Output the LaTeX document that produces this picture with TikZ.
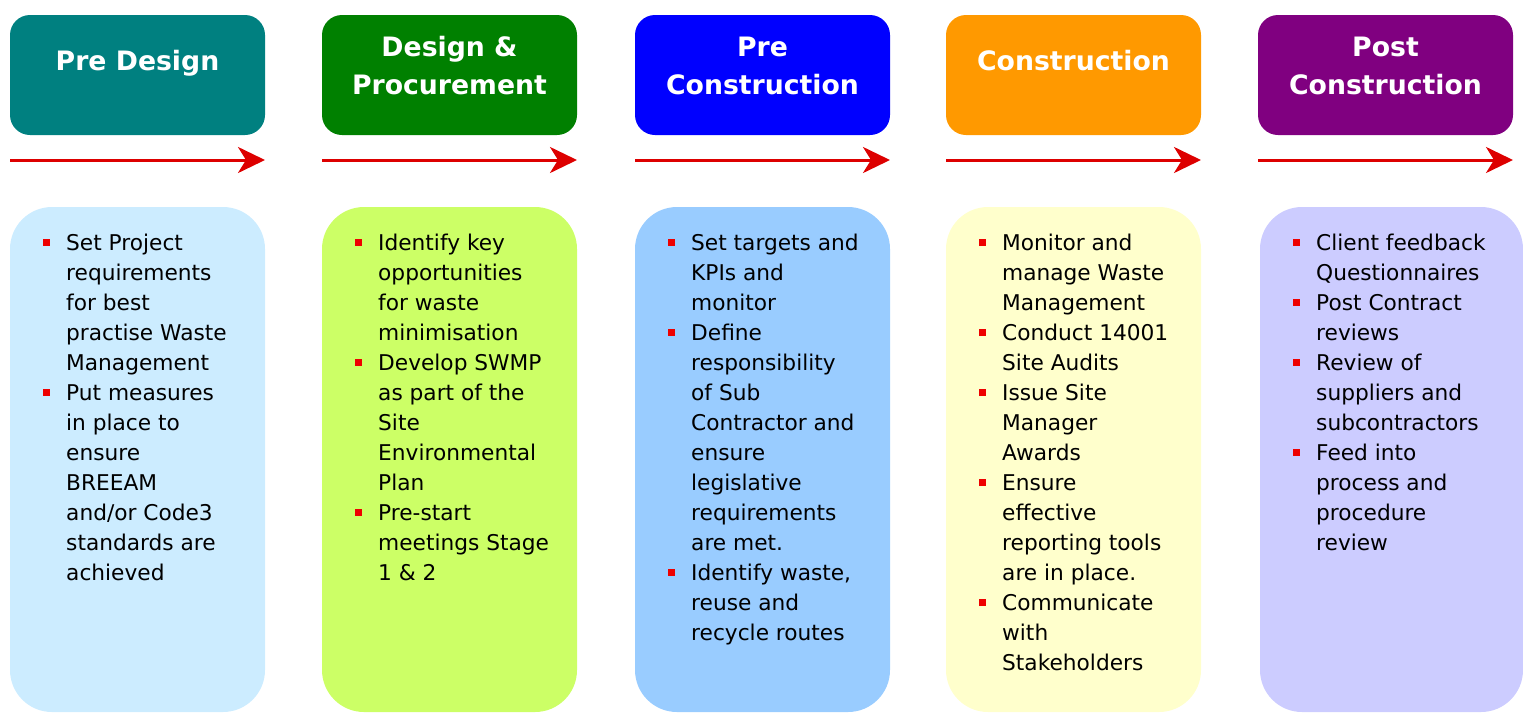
\documentclass[tikz,border=0pt]{standalone}
\usepackage{fontspec}
\setmainfont{DejaVu Sans}
\usetikzlibrary{arrows.meta}
\definecolor{hA}{HTML}{008080}
\definecolor{hB}{HTML}{008000}
\definecolor{hC}{HTML}{0000FF}
\definecolor{hD}{HTML}{FF9900}
\definecolor{hE}{HTML}{800080}
\definecolor{bA}{HTML}{CCECFF}
\definecolor{bB}{HTML}{CCFF66}
\definecolor{bC}{HTML}{99CCFF}
\definecolor{bD}{HTML}{FFFFCC}
\definecolor{bE}{HTML}{CCCCFF}
\definecolor{bulred}{HTML}{EE0000}
\definecolor{arrred}{HTML}{DD0000}
\newcommand{\bul}{\textcolor{bulred}{\rule[4.5pt]{7pt}{7pt}}}
\tikzset{
  headbox/.style={fill=#1, draw=none, rounded corners=20pt},
  bodybox/.style={fill=#1, draw=none, rounded corners=42pt},
  headtext/.style={text=white, font=\fontsize{26.7}{38}\selectfont\bfseries, align=center, inner sep=0pt, anchor=base},
  bodytext/.style={font=\fontsize{21.7}{30}\selectfont, inner sep=0pt, anchor=base west, text=black},
  phasearrow/.style={draw=arrred, line width=3pt, -{Stealth[length=27pt,width=26pt,inset=8pt]}}
}
\begin{document}
\begin{tikzpicture}[x=1pt,y=-1pt]
\useasboundingbox (0,0) rectangle (1523,713);
% headers
\foreach \i/\x/\c in {1/10/hA,2/322/hB,3/635/hC,4/946/hD,5/1258/hE}{
  \fill[headbox=\c] (\x,15) rectangle ++(255,120);
  \coordinate (as\i) at (\x,160);
  \coordinate (ae\i) at (\x+255,160);
  \draw[phasearrow] (as\i) -- (ae\i);
}
\fill[bodybox=bA] (10,207) rectangle (265,712);
\fill[bodybox=bB] (322,207) rectangle (577,712);
\fill[bodybox=bC] (635,207) rectangle (890,712);
\fill[bodybox=bD] (946,207) rectangle (1201,712);
\fill[bodybox=bE] (1260,207) rectangle (1523,712);

\node[headtext] (h1) at (137.5,70) {Pre Design};
\node[headtext] (h2) at (449.5,56) {\begin{tabular}[t]{@{}c@{}}Design \&\\Procurement\end{tabular}};
\node[headtext] (h3) at (762.5,56) {\begin{tabular}[t]{@{}c@{}}Pre\\Construction\end{tabular}};
\node[headtext] (h4) at (1073.5,70) {Construction};
\node[headtext] (h5) at (1385.5,56) {\begin{tabular}[t]{@{}c@{}}Post\\Construction\end{tabular}};

\node[bodytext] (t1) at (43,250) {\begin{tabular}[t]{@{}l@{\hspace{16pt}}l@{}}
\bul & Set Project\\ & requirements\\ & for best\\ & practise Waste\\ & Management\\
\bul & Put measures\\ & in place to\\ & ensure\\ & BREEAM\\ & and/or Code3\\ & standards are\\ & achieved
\end{tabular}};
\node[bodytext] (t2) at (355,250) {\begin{tabular}[t]{@{}l@{\hspace{16pt}}l@{}}
\bul & Identify key\\ & opportunities\\ & for waste\\ & minimisation\\
\bul & Develop SWMP\\ & as part of the\\ & Site\\ & Environmental\\ & Plan\\
\bul & Pre-start\\ & meetings Stage\\ & 1 \& 2
\end{tabular}};
\node[bodytext] (t3) at (668,250) {\begin{tabular}[t]{@{}l@{\hspace{16pt}}l@{}}
\bul & Set targets and\\ & KPIs and\\ & monitor\\
\bul & Define\\ & responsibility\\ & of Sub\\ & Contractor and\\ & ensure\\ & legislative\\ & requirements\\ & are met.\\
\bul & Identify waste,\\ & reuse and\\ & recycle routes
\end{tabular}};
\node[bodytext] (t4) at (979,250) {\begin{tabular}[t]{@{}l@{\hspace{16pt}}l@{}}
\bul & Monitor and\\ & manage Waste\\ & Management\\
\bul & Conduct 14001\\ & Site Audits\\
\bul & Issue Site\\ & Manager\\ & Awards\\
\bul & Ensure\\ & effective\\ & reporting tools\\ & are in place.\\
\bul & Communicate\\ & with\\ & Stakeholders
\end{tabular}};
\node[bodytext] (t5) at (1293,250) {\begin{tabular}[t]{@{}l@{\hspace{16pt}}l@{}}
\bul & Client feedback\\ & Questionnaires\\
\bul & Post Contract\\ & reviews\\
\bul & Review of\\ & suppliers and\\ & subcontractors\\
\bul & Feed into\\ & process and\\ & procedure\\ & review
\end{tabular}};
\end{tikzpicture}
\end{document}
